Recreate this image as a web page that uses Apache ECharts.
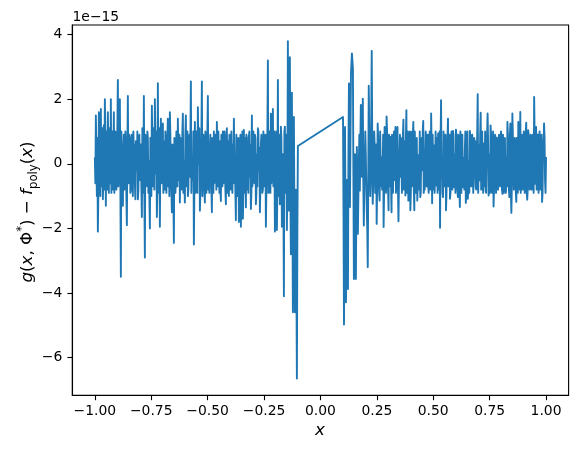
<!DOCTYPE html>
<html>
<head>
<meta charset="utf-8">
<script src="https://cdn.jsdelivr.net/npm/echarts@6/dist/echarts.min.js"></script>
<style>
html,body{margin:0;padding:0;background:#fff;}
#chart{width:578px;height:449px;}
</style>
</head>
<body>
<div id="chart"></div>
<script>
// Domain pieces (x from -1 to -0.1 and 0.1 to 1, evenly sampled)
const leftRange = [-1.0, -0.1];
const rightRange = [0.1, 1.0];

// residual values, in units of 1e-15 (main samples)
const leftValues = [
 0.2, 1.5, -1.0, -2.1, 1.6, -0.5, 1.7, 0.3, -1.1, 1.2,
 2.0, -1.3, 0.5, 1.6, -0.9, 0.8, 2.0, 0.2, -0.8, 1.6,
 -0.1, 0.7, -0.3, 2.6, 0.1, 2.0, -3.5, 0.4, -1.3, 0.9,
 -0.4, 0.6, -1.9, 2.1, -0.2, 0.5, -0.8, 0.9, -1.0, 0.3,
 -0.6, 0.7, -0.2, -1.1, 0.4, -0.5, 0.6, -1.65, 0.3, 2.1,
 -2.9, 0.2, -0.6, 0.8, 0.1, -2.0, 0.5, 1.8, -0.7, 0.4,
 2.0, -0.3, -1.65, 2.5, -0.2, -1.95, 1.4, 0.0, 1.25, -0.4,
 -0.8, 0.6, -0.1, 1.4, 0.2, 1.6, -0.5, -1.5, 0.4, -2.45,
 0.3, -0.6, 0.7, 1.4, -0.3, -1.2, 0.5, -0.2, 1.55, 0.1,
 -1.2, 1.5, 0.0, -1.0, 0.6, -0.4, 2.55, 0.2, -0.5, -2.5,
 1.3, 0.1, -0.6, 1.75, 0.0, -1.45, 0.7, 2.55, -0.3, 0.4,
 -1.2, 1.0, 0.2, 2.1, -0.4, 0.5, -0.2, -1.5, 0.3, 1.0,
 -0.5, 0.4, 1.3, -0.7, 0.1, 0.7, -1.15, 0.2, 1.0, -0.6,
 0.3, -1.25, 1.1, 0.0, -1.0, 0.5, 0.4, -0.3, 0.6, 1.4,
 0.1, -1.75, 0.3, -0.5, -1.8, 0.1, -1.95, 0.4, -1.7, 1.05,
 -0.2, -1.35, 0.8, 0.0, 0.85, -0.4, -1.4, 1.5, 0.2, -0.3,
 0.9, -1.25, 0.3, 1.1, -0.2, -1.5, 0.6, 0.0, -0.8, 0.5,
 -0.3, -1.95, 0.4, 3.2, 0.1, -0.5, 1.55, 0.2, 1.7, -0.4,
 -2.1, 0.3, -2.05, 2.6, 0.0, -1.25, 1.15, -1.95, 0.3, -4.1,
 1.15, -0.5, -2.05, 3.8, -1.45, 3.3, -2.8, 2.2, -4.6, 1.45,
 -4.6, -0.8, -6.65, 0.55
];
// in-between samples of the dense noise band (one between each pair above)
const leftMid = [
 -0.6, 0.4, 0.8, -0.9, 0.9, -1.0, -0.7, 1.1, -0.4, -0.8,
 0.9, 1.0, -0.8, 0.3, 1.1, -0.6, -0.9, 1.0, 0.2, -0.9,
 1.0, -0.8, 1.1, -0.7, 0.9, -0.6, 1.0, -0.9, 0.3, -0.8,
 1.0, -1.0, 0.4, -0.6, 0.9, -0.9, 0.8, -0.5, 1.0, 0.6,
 -1.1, 0.2, 1.0, -0.8, 0.9, -0.2, -0.7, 1.1, -0.9, -1.0,
 0.9, -0.7, 1.0, -0.9, -1.0, 0.8, -1.0, 0.6, 1.1, -0.8,
 0.7, 1.0, -0.8, -0.9, 1.1, 0.3, -0.6, 1.0, -0.9, 0.7,
 1.0, -0.9, 0.8, -0.7, -1.0, 0.9, -0.8, 0.6, -1.0, 0.8,
 -0.9, 1.0, -0.7, -0.5, 0.9, 0.8, -0.8, 1.0, -0.9, -0.6,
 0.9, -0.7, 1.0, -0.8, 0.9, 0.7, -0.9, -0.4, 1.0, -0.8,
 -0.9, 1.0, -0.9, 0.5, 1.1, -0.9, 0.8, -1.0, 0.9, -0.8,
 1.0, -0.9, 1.0, -0.8, -0.9, 0.9, -0.7, 0.8, -0.9, -0.6,
 0.9, -0.8, -0.5, 1.0, -0.9, -0.8, 0.9, -0.7, -0.6, 1.0,
 -0.8, 0.9, -0.9, 0.7, 0.9, -0.8, 1.0, -0.9, -0.6, 0.2,
 -0.9, 0.9, -1.0, 0.8, -1.0, 0.9, -0.8, 1.0, -0.7, -0.9,
 0.8, 0.9, -0.8, -0.9, 1.0, 0.6, -0.9, -0.7, 1.0, -0.6,
 0.8, -0.9, -0.7, 1.0, 0.5, -0.8, 0.9, -0.9, 1.0, -0.7,
 0.9, -0.8, 1.0, -0.9, 1.0, -0.9, -0.6, 1.0, -0.7, 1.0,
 -0.9, 1.0, -0.8, -1.0, 0.9, -0.5, 0.8, -1.1, -0.9, 1.0,
 -0.9, 0.9, -0.3, -1.0, 0.8, -1.0, 0.6, -1.2, -1.0, -1.5,
 -2.0, -3.5, -2.0
];

const rightValues = [
 1.45, -4.98, 1.14, -4.29, -0.5, -3.88, 2.49, -1.34, 2.75, 3.42,
 2.95, -3.57, 0.3, -3.57, 0.52, -2.17, 0.06, -0.83, 1.82, -0.4,
 2.02, -1.91, 0.1, 0.32, -1.44, -3.2, 2.42, 0.2, -0.52, 3.5,
 -1.24, 0.2, 0.52, -0.5, -1.86, 1.25, -0.3, -1.14, 0.99, 0.2,
 -0.6, -1.96, 1.14, -0.2, 1.47, 0.3, -1.44, 0.1, 0.83, -1.5,
 0.3, 0.42, -0.5, 1.14, -0.2, 1.14, -1.78, 0.2, -0.4, 0.83,
 -0.3, 1.37, 0.1, -0.98, 1.66, 0.0, -1.14, 0.5, -1.44, 0.99,
 -0.2, 1.3, -1.44, 0.99, -0.3, -1.14, 0.27, -0.4, -1.03, 0.5,
 -0.2, 1.33, -0.72, 0.2, 0.73, -0.3, -0.67, 0.4, 0.68, 1.56,
 -1.22, 0.2, 0.57, -0.2, -0.67, 0.4, 0.94, -0.3, -1.98, 1.97,
 0.1, -1.03, 0.42, -0.3, -1.44, 0.5, 1.4, -0.2, -1.08, 0.5,
 -0.3, 1.02, -0.72, 0.3, 1.06, -0.2, -1.03, 0.4, -1.34, 0.78,
 -0.1, -0.72, 0.2, 0.39, -1.21, 0.3, -1.08, 0.1, 1.02, -0.4,
 0.83, 0.0, -0.36, 0.5, -0.72, 0.3, 2.16, 0.1, -0.51, 1.58,
 0.0, -0.41, 0.63, -0.2, -0.82, 0.4, 1.56, -0.98, 0.3, 1.19,
 -0.51, 0.2, -1.32, 0.1, 0.83, -0.62, 0.2, 0.73, -0.46, 0.3,
 0.7, -0.93, 0.4, 0.0, -0.62, 0.2, 1.3, -0.3, -1.03, 1.25,
 -1.52, 1.56, 0.1, -0.67, 0.3, -1.18, 0.5, 1.3, -0.2, 1.61,
 0.2, -0.57, 0.3, 0.68, -0.3, 1.27, -1.11, 1.04, 0.1, -0.72,
 0.4, 0.52, -0.3, 2.07, -0.62, 1.14, 0.2, -0.51, 0.78, 0.1,
 -0.62, -1.18, 0.73, 1.25, -0.51, 0.21
];
const rightMid = [
 -1.5, -2.0, -1.5, -2.5, -2.0, 0.5, 0.8, 0.6, 3.1, 3.2,
 -0.4, -1.5, -1.8, -1.2, -0.8, -1.0, 0.9, 0.6, 0.9, 0.8,
 -0.5, -0.8, 1.0, -0.6, -2.0, -0.4, 1.0, -1.0, 1.5, 0.9,
 -0.6, 1.0, -0.9, 0.6, -0.6, 0.8, -0.9, 1.0, -0.7, -0.8,
 0.9, -0.8, 0.6, -0.9, 1.0, -0.8, 0.9, -0.7, -0.6, 0.9,
 -0.9, 1.0, 0.7, -0.9, 1.0, -0.8, -0.6, 0.9, 0.8, -0.9,
 0.9, -0.8, 0.7, 0.8, -0.9, 1.0, -0.8, 1.0, -0.9, -0.7,
 0.9, -0.8, 1.0, -0.9, 0.8, -0.6, -0.8, 1.0, -0.9, 0.8,
 1.0, -0.9, -0.8, 1.0, -0.7, 0.9, -0.9, 1.0, -0.8, 0.4,
 0.9, -0.8, -0.9, 1.0, 0.8, -0.9, -0.8, 1.0, 0.6, -0.4,
 -0.9, 1.0, -0.7, 0.9, -0.9, 0.8, -0.7, 0.9, -0.9, 1.0,
 -0.8, 0.9, -0.6, -0.9, 0.9, -0.8, 0.9, -0.8, 1.0, -0.9,
 0.9, -0.7, -0.8, 1.0, -0.9, 1.0, -0.8, -0.9, 0.9, -0.7,
 0.9, -0.9, 0.8, 0.7, -0.8, 0.9, -0.9, 0.6, 0.9, -0.8,
 1.0, -0.9, -0.7, 1.0, -0.9, 0.9, 0.7, -0.8, -0.9, 0.9,
 -0.9, 1.0, -0.8, 0.9, -0.9, 0.8, -0.8, 0.9, -0.7, 1.0,
 -0.8, 0.9, -0.9, 0.8, -0.9, -0.7, 0.9, -0.8, 0.9, -0.9,
 -0.6, 0.9, -0.8, 0.8, -0.9, 0.8, -0.9, 0.9, -0.8, -0.9,
 0.9, -0.8, 1.0, -0.9, 1.0, -0.9, -0.8, 0.9, -0.8, 0.9,
 -0.8, 0.9, -0.9, 0.8, 1.0, -0.8, 0.9, -0.9, 1.0, -0.8,
 0.9, -0.9, 0.6, 0.8, -0.9
];

const xTicks = [-1.0, -0.75, -0.5, -0.25, 0.0, 0.25, 0.5, 0.75, 1.0];
const yTicks = [-6, -4, -2, 0, 2, 4];

function interleave(vals, mids) {
  const out = [];
  vals.forEach((v, i) => { out.push(v); if (i < mids.length) out.push(mids[i]); });
  return out;
}
function sampled(range, vals) {
  const n = vals.length;
  return vals.map((v, i) => [range[0] + (range[1] - range[0]) * i / (n - 1), v]);
}
const data = sampled(leftRange, interleave(leftValues, leftMid))
  .concat(sampled(rightRange, interleave(rightValues, rightMid)));

const FONT = 'DejaVu Sans';
const minus = s => String(s).replace('-', '\u2212');

const chart = echarts.init(document.getElementById('chart'), null, {renderer: 'canvas'});
chart.setOption({
  animation: false,
  backgroundColor: '#ffffff',
  grid: {left: 72.3, right: 9.4, top: 25, bottom: 53.7, show: true,
         borderColor: '#000', borderWidth: 1.1, backgroundColor: 'transparent'},
  xAxis: {
    type: 'value', min: -1.1, max: 1.1,
    axisLine: {show: true, onZero: false, lineStyle: {color: '#000', width: 1.1}},
    axisTick: {show: true, inside: false, length: 4.9, customValues: xTicks, lineStyle: {color: '#000', width: 1.1}},
    axisLabel: {show: true, margin: 9, customValues: xTicks, color: '#000', fontFamily: FONT, fontSize: 13.9,
                formatter: v => minus(v.toFixed(2))},
    splitLine: {show: false}
  },
  yAxis: {
    type: 'value', min: -7.17, max: 4.3,
    axisLine: {show: true, onZero: false, lineStyle: {color: '#000', width: 1.1}},
    axisTick: {show: true, inside: false, length: 4.9, customValues: yTicks, lineStyle: {color: '#000', width: 1.1}},
    axisLabel: {show: true, margin: 10, customValues: yTicks, color: '#000', fontFamily: FONT, fontSize: 13.9,
                formatter: v => minus(Math.round(v))},
    splitLine: {show: false}
  },
  series: [{
    type: 'line', data: data, showSymbol: false, symbol: 'none',
    lineStyle: {color: '#1f77b4', width: 1.9, join: 'round', cap: 'butt'},
    itemStyle: {color: '#1f77b4'},
    clip: true
  }],
  graphic: [
    {type: 'text', left: 72.5, top: 10,
     style: {text: '1e\u221215', fill: '#000', font: '13.9px "DejaVu Sans"'}},
    {type: 'text', x: 320, y: 431,
     style: {text: 'x', fill: '#000', font: 'italic 16.7px "DejaVu Sans"', align: 'center', verticalAlign: 'middle'}},
    {type: 'text', x: 28, y: 212, rotation: Math.PI / 2,
     style: {
       text: '{i|g}{n|(}{i|x}{n|, \u03A6}{sup|*}{n|) \u2212 }{i|f}{sub|poly}{n|(}{i|x}{n|)}',
       align: 'center', verticalAlign: 'middle', fill: '#000',
       rich: {
         i: {fontFamily: FONT, fontStyle: 'italic', fontSize: 16.7, lineHeight: 24, verticalAlign: 'middle', fill: '#000'},
         n: {fontFamily: FONT, fontSize: 16.7, lineHeight: 24, verticalAlign: 'middle', fill: '#000'},
         sup: {fontFamily: FONT, fontSize: 11.7, lineHeight: 10, verticalAlign: 'top', fill: '#000'},
         sub: {fontFamily: FONT, fontSize: 11.7, lineHeight: 16, verticalAlign: 'bottom', fill: '#000'}
       }
     }}
  ]
});
</script>
</body>
</html>
